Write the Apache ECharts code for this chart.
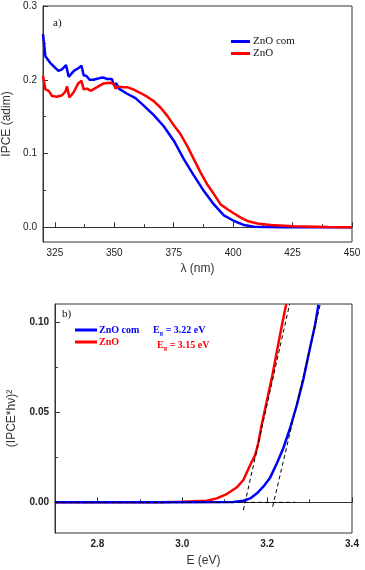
<!DOCTYPE html>
<html>
<head>
<meta charset="utf-8">
<script src="https://cdn.jsdelivr.net/npm/echarts@6/dist/echarts.min.js"></script>
<style>
  html, body { margin: 0; padding: 0; background: #fff; }
  #main { width: 365px; height: 570px; }
</style>
</head>
<body>
<div id="main"></div>
<script>
// panel a) IPCE vs wavelength
var lambdaCom = [320, 321, 323, 326.5, 328, 329.7, 330.8, 333, 335, 336.2, 337.1, 338.3, 339.6, 341.3, 344.2, 345.5, 347, 349, 349.8, 350.9, 351.9, 355.4, 358.9, 362.4, 366.6, 370.8, 375.1, 379.3, 383.5, 387.7, 391.9, 396.1, 400.4, 404.6, 408.8, 420, 450];
var ipceCom = [0.262, 0.232, 0.223, 0.212, 0.214, 0.220, 0.204, 0.212, 0.216, 0.219, 0.206, 0.205, 0.200, 0.200, 0.2026, 0.203, 0.201, 0.201, 0.193, 0.195, 0.188, 0.181, 0.175, 0.165, 0.152, 0.137, 0.117, 0.092, 0.070, 0.049, 0.031, 0.016, 0.0085, 0.003, 0.0008, 0, 0];
var lambdaZnO = [320, 321, 322.4, 323.8, 325.9, 328, 329.4, 330.1, 331.1, 332.9, 334.8, 336.2, 337.1, 338.6, 340, 342.8, 345.5, 348.4, 349.8, 350.5, 351.4, 353.3, 355.4, 358.2, 361, 363.8, 366.6, 369.5, 372.3, 375.1, 377.9, 380.7, 383.5, 386.3, 389.1, 391.9, 394.7, 397.6, 400.4, 403.2, 406, 410.2, 415.8, 425.6, 440, 450];
var ipceZnO = [0.205, 0.187, 0.185, 0.178, 0.177, 0.179, 0.184, 0.191, 0.176, 0.183, 0.195, 0.1985, 0.187, 0.188, 0.185, 0.190, 0.195, 0.196, 0.194, 0.188, 0.191, 0.190, 0.190, 0.1865, 0.182, 0.177, 0.171, 0.162, 0.151, 0.138, 0.126, 0.110, 0.092, 0.074, 0.058, 0.045, 0.031, 0.0245, 0.0186, 0.013, 0.0085, 0.005, 0.003, 0.0015, 0.0005, 0];

// panel b) (IPCE*hv)^2 vs energy
var energyCom = [2.70, 3.00, 3.12, 3.144, 3.160, 3.176, 3.191, 3.207, 3.223, 3.238, 3.254, 3.270, 3.286, 3.301, 3.313, 3.321];
var taucCom = [0, 0, 0.0002, 0.0009, 0.0022, 0.005, 0.0087, 0.0137, 0.0217, 0.030, 0.0411, 0.054, 0.0689, 0.0856, 0.0985, 0.1096];
var energyZnO = [2.70, 2.95, 3.00, 3.058, 3.081, 3.105, 3.128, 3.144, 3.160, 3.172, 3.179, 3.187, 3.199, 3.211, 3.223, 3.235, 3.245];
var taucZnO = [0, 0.0001, 0.0004, 0.0009, 0.0022, 0.0046, 0.0082, 0.0124, 0.0207, 0.0263, 0.0328, 0.0429, 0.0559, 0.0689, 0.0837, 0.0985, 0.11];

// tangent / baseline construction lines
var baseLine = [[2.7, 0], [3.266, 0]];
var fitZnO = [[3.144, -0.0043], [3.253, 0.11]];
var fitCom = [[3.213, -0.0024], [3.325, 0.1096]];

var ticksA_x = [325, 350, 375, 400, 425, 450];
var minorA_x = [337.5, 362.5, 387.5, 412.5, 437.5];
var ticksA_y = [0, 0.1, 0.2, 0.3];
var minorA_y = [0.05, 0.15, 0.25];
var ticksB_x = [2.8, 3.0, 3.2, 3.4];
var minorB_x = [2.7, 2.9, 3.1, 3.3];
var ticksB_y = [0, 0.05, 0.1];
var minorB_y = [0.025, 0.075];

var BLUE = '#0000ff', RED = '#ff0000', AXIS = '#333';
var SERIF = 'Liberation Serif, Times New Roman, serif';

function zip(xs, ys) {
  return xs.map(function(x, i) { return [x, ys[i]]; });
}

function axis(kind, grid, min, max, majors, minors, bold, digits, name, nameGap) {
  var major = {
    type: 'value', gridIndex: grid, min: min, max: max,
    position: kind == 'x' ? 'bottom' : 'left',
    splitLine: {show: false},
    axisLine: {lineStyle: {color: AXIS, width: 1}},
    axisTick: {inside: true, length: 5, customValues: majors, lineStyle: {color: AXIS}},
    axisLabel: {
      customValues: majors, color: '#222', fontSize: 10,
      fontFamily: 'Liberation Sans, Arial, sans-serif',
      fontWeight: bold ? 'bold' : 'normal',
      margin: 6,
      formatter: function(v) { return v.toFixed(digits); }
    },
    name: name, nameLocation: 'middle', nameGap: nameGap,
    nameTextStyle: {fontSize: 12, color: '#333', fontFamily: 'Liberation Sans, Arial, sans-serif'}
  };
  var minor = {
    type: 'value', gridIndex: grid, min: min, max: max,
    position: kind == 'x' ? 'bottom' : 'left',
    splitLine: {show: false},
    axisLine: {show: false},
    axisTick: {inside: true, length: 3, customValues: minors, lineStyle: {color: AXIS}},
    axisLabel: {show: false}
  };
  return [major, minor];
}

var chart = echarts.init(document.getElementById('main'));

var xAxes = axis('x', 0, 320, 450, ticksA_x, minorA_x, false, 0, 'λ (nm)', 21)
  .concat(axis('x', 1, 2.7, 3.4, ticksB_x, minorB_x, true, 1, 'E (eV)', 22));
var yAxes = axis('y', 0, -0.02, 0.3, ticksA_y, minorA_y, false, 1, 'IPCE (adim)', 30)
  .concat(axis('y', 1, -0.017, 0.11, ticksB_y, minorB_y, true, 2, '(IPCE*hν)²', 37));

function curve(name, data, color, xi, yi) {
  return {
    name: name, type: 'line', data: data, xAxisIndex: xi, yAxisIndex: yi,
    showSymbol: false, smooth: false, color: color,
    lineStyle: {color: color, width: 2.5}
  };
}
function dashed(data) {
  return {
    type: 'line', data: data, xAxisIndex: 2, yAxisIndex: 2,
    showSymbol: false, silent: true, z: 3,
    lineStyle: {color: '#000', width: 1, type: [4, 3]}
  };
}

function egText(value, color) {
  return {
    text: '{e|E}{s|g}{e| = ' + value + ' eV}',
    rich: {
      e: {fontSize: 10, fontWeight: 'bold', fontFamily: SERIF, fill: color},
      s: {fontSize: 7, fontWeight: 'bold', fontFamily: SERIF, fill: color, padding: [6, 0, 0, 0]}
    }
  };
}

var option = {
  animation: false,
  grid: [
    {left: 43, top: 6, right: 13, height: 236, show: true, borderColor: AXIS, borderWidth: 1,
     containLabel: false, outerBoundsMode: 'none'},
    {left: 55, top: 304, right: 13, height: 229, show: true, borderColor: AXIS, borderWidth: 1,
     containLabel: false, outerBoundsMode: 'none'}
  ],
  xAxis: xAxes,
  yAxis: yAxes,
  legend: [
    {
      left: 231, top: 36, orient: 'vertical', itemGap: 1, padding: 0,
      itemWidth: 19, itemHeight: 3, icon: 'rect',
      data: ['ZnO com', 'ZnO'],
      textStyle: {fontFamily: SERIF, fontSize: 11, color: '#111', padding: [0, 0, 0, -2]}
    },
    {
      left: 75, top: 325, orient: 'vertical', itemGap: 2, padding: 0,
      itemWidth: 22, itemHeight: 3, icon: 'rect',
      data: [
        {name: 'ZnO com', textStyle: {color: BLUE}},
        {name: 'ZnO', textStyle: {color: RED}}
      ],
      textStyle: {fontFamily: SERIF, fontSize: 10, fontWeight: 'bold', padding: [0, 0, 0, -3]}
    }
  ],
  graphic: [
    {type: 'text', left: 53, top: 18, style: {text: 'a)', fontSize: 11, fontFamily: SERIF, fill: '#111'}},
    {type: 'text', left: 62, top: 309, style: {text: 'b)', fontSize: 11, fontFamily: SERIF, fill: '#111'}},
    {type: 'text', left: 153, top: 325, style: egText('3.22', BLUE)},
    {type: 'text', left: 157, top: 340, style: egText('3.15', RED)}
  ],
  series: [
    curve('ZnO com', zip(lambdaCom, ipceCom), BLUE, 0, 0),
    curve('ZnO', zip(lambdaZnO, ipceZnO), RED, 0, 0),
    curve('ZnO', zip(energyZnO, taucZnO), RED, 2, 2),
    curve('ZnO com', zip(energyCom, taucCom), BLUE, 2, 2),
    dashed(baseLine),
    dashed(fitZnO),
    dashed(fitCom)
  ]
};

chart.setOption(option);
</script>
</body>
</html>
